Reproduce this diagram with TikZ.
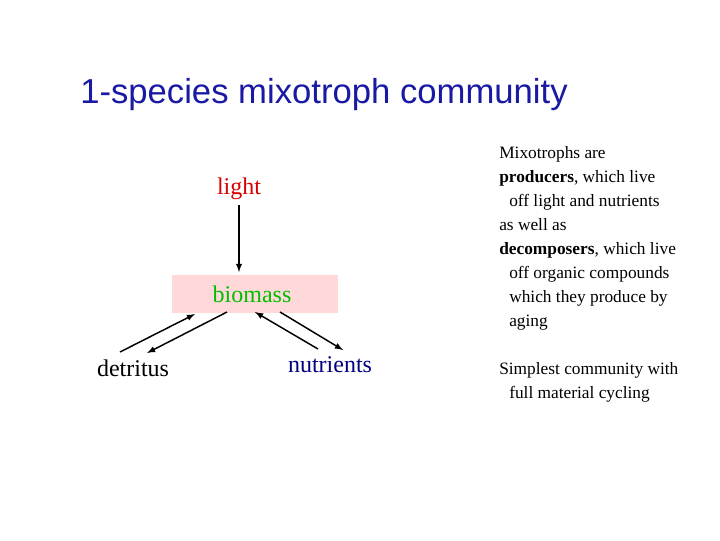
\documentclass[tikz,border=0pt]{standalone}
\usepackage{fontspec}
\setmainfont{Liberation Serif}
\newfontfamily\titlefont{Liberation Sans}
\begin{document}
\begin{tikzpicture}[x=0.75pt,y=-0.75pt,
  lbl/.style={font=\fontsize{18}{20}\selectfont, inner sep=0pt},
  arr/.style={-latex, line width=1.1pt}]
\useasboundingbox (0,0) rectangle (720,540);
\node[font=\titlefont\fontsize{26}{30}\selectfont, text=blue!60!black!90, inner sep=0pt, anchor=west] (title) at (80,95) {1-species mixotroph community};
\fill[red!15] (172,275) rectangle (338,313);
\node[lbl, text=red!85!black] (light) at (239,189) {light};
\node[lbl, text=green!75!black] (biomass) at (252,294) {biomass};
\node[lbl] (detritus) at (133,368) {detritus};
\node[lbl, text=blue!50!black] (nutrients) at (330,365) {nutrients};
\coordinate (l1) at (239,205); \coordinate (l2) at (239,272);
\draw[arr] (l1) -- (l2);
\coordinate (a1) at (120,352); \coordinate (a2) at (195,314);
\coordinate (b1) at (227,312); \coordinate (b2) at (147,353);
\coordinate (c1) at (318,349); \coordinate (c2) at (255,312);
\coordinate (d1) at (280,312); \coordinate (d2) at (343,350);
\draw[arr] (a1) -- (a2);
\draw[arr] (b1) -- (b2);
\draw[arr] (c1) -- (c2);
\draw[arr] (d1) -- (d2);
\node[anchor=north west, align=left, inner sep=0pt, font=\fontsize{13}{18}\selectfont] (txt) at (499,146) {Mixotrophs are\\
\textbf{producers}, which live\\
\hspace*{7.5pt}off light and nutrients\\
as well as\\
\textbf{decomposers}, which live\\
\hspace*{7.5pt}off organic compounds\\
\hspace*{7.5pt}which they produce by\\
\hspace*{7.5pt}aging\\[18pt]
Simplest community with\\
\hspace*{7.5pt}full material cycling};
\end{tikzpicture}
\end{document}
